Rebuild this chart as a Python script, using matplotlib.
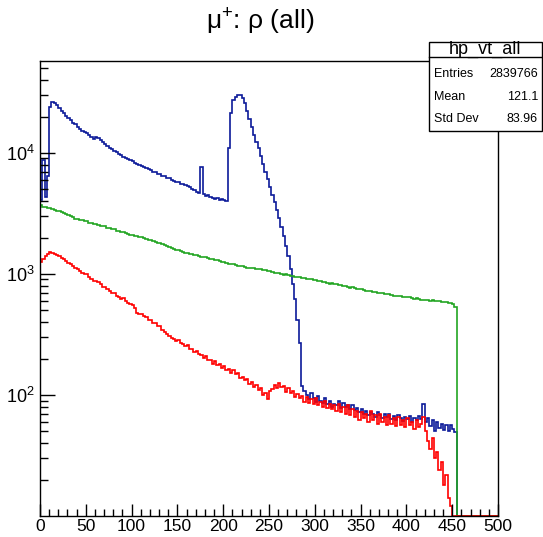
import numpy as np
import matplotlib
matplotlib.use("Agg")
import matplotlib.pyplot as plt
from matplotlib.patches import Rectangle
from matplotlib.lines import Line2D
from matplotlib.ticker import FixedLocator, MultipleLocator, NullFormatter

plt.rcParams['font.family'] = ['Liberation Sans', 'DejaVu Sans']
plt.rcParams['mathtext.fontset'] = 'custom'
plt.rcParams['mathtext.rm'] = 'Liberation Sans'
plt.rcParams['mathtext.it'] = 'Liberation Sans'

# histogram contents, 2.5-unit bins from 0 to 500 (one row = 25 units)
edges = np.arange(0, 502.5, 2.5)

blue = [4100, 8800, 4300, 6400, 24000, 26500, 26000, 25000, 23500, 22300,
        21200, 20200, 19400, 18600, 17800, 17200, 16500, 15800, 15300, 14800,
        14500, 14100, 13500, 13100, 13600, 13400, 12700, 12300, 11800, 11400,
        11000, 10700, 10400, 10100, 9800, 9600, 9300, 9100, 8900, 8700,
        8500, 8300, 8100, 7900, 7800, 7600, 7500, 7300, 7200, 7000,
        6900, 6700, 6650, 6500, 6400, 6250, 6150, 6000, 5900, 5800,
        5700, 5550, 5500, 5400, 5300, 5200, 5050, 4950, 4800, 4700,
        7600, 4550, 4400, 4450, 4300, 4250, 4200, 4250, 4100, 4150,
        4050, 4000, 11000, 21500, 27400, 29000, 30200, 30000, 28500, 26000,
        22000, 19000, 16400, 14200, 12400, 11000, 9400, 8100, 7000, 6100,
        5200, 4500, 3900, 3400, 2900, 2450, 2050, 1700, 1400, 1100,
        820, 620, 420, 270, 118, 108, 100, 92, 104, 95,
        88, 98, 90, 86, 94, 84, 89, 80, 85, 82,
        90, 78, 86, 80, 83, 76, 82, 75, 78, 72,
        76, 70, 74, 68, 73, 70, 66, 72, 68, 64,
        70, 66, 69, 63, 67, 62, 68, 64, 61, 66,
        63, 67, 60, 64, 62, 67, 63, 84, 60, 64,
        55, 62, 50, 60, 53, 58, 51, 57, 50, 56,
        52, 49, 0, 0, 0, 0, 0, 0, 0, 0,
        0, 0, 0, 0, 0, 0, 0, 0, 0, 0]

green = [3680, 3600, 3580, 3520, 3480, 3430, 3380, 3300, 3290, 3220,
         3160, 3110, 3080, 3020, 2940, 2870, 2860, 2810, 2780, 2720,
         2720, 2660, 2630, 2590, 2600, 2540, 2500, 2480, 2470, 2420,
         2380, 2340, 2330, 2280, 2250, 2230, 2230, 2180, 2150, 2110,
         2110, 2070, 2050, 2010, 2010, 1970, 1940, 1900, 1890, 1860,
         1830, 1790, 1790, 1760, 1720, 1690, 1670, 1640, 1610, 1580,
         1580, 1550, 1520, 1500, 1500, 1470, 1450, 1430, 1440, 1410,
         1390, 1370, 1375, 1350, 1330, 1320, 1315, 1300, 1270, 1255,
         1250, 1240, 1210, 1200, 1200, 1185, 1165, 1160, 1160, 1140,
         1130, 1125, 1130, 1115, 1105, 1100, 1100, 1085, 1075, 1065,
         1060, 1045, 1025, 1020, 1015, 1005, 985, 990, 980, 965,
         955, 950, 950, 935, 930, 920, 915, 905, 900, 890,
         885, 880, 870, 860, 860, 845, 830, 835, 830, 820,
         810, 805, 800, 790, 785, 770, 775, 760, 750, 745,
         745, 740, 725, 720, 720, 712, 705, 698, 700, 690,
         682, 684, 678, 670, 662, 660, 655, 652, 648, 642,
         645, 640, 628, 625, 630, 622, 615, 612, 612, 606,
         602, 605, 600, 595, 598, 590, 592, 585, 575, 580,
         560, 535, 0, 0, 0, 0, 0, 0, 0, 0,
         0, 0, 0, 0, 0, 0, 0, 0, 0, 0]

red = [1250, 1340, 1400, 1450, 1520, 1500, 1460, 1430, 1400, 1360,
       1320, 1270, 1240, 1210, 1160, 1120, 1100, 1060, 1020, 990,
       990, 940, 900, 880, 880, 850, 820, 780, 780, 750,
       720, 690, 700, 660, 640, 620, 630, 600, 580, 560,
       550, 520, 480, 470, 470, 450, 440, 420, 415, 395,
       390, 370, 375, 345, 330, 320, 310, 295, 290, 280,
       285, 268, 262, 255, 258, 240, 240, 228, 232, 218,
       212, 204, 210, 195, 194, 182, 190, 176, 180, 166,
       172, 160, 165, 152, 160, 148, 152, 138, 142, 132,
       135, 124, 128, 116, 122, 110, 115, 100, 104, 92,
       108, 112, 120, 114, 126, 116, 118, 106, 114, 104,
       108, 96, 102, 94, 98, 88, 96, 86, 92, 84,
       94, 82, 88, 80, 90, 78, 84, 76, 82, 74,
       84, 72, 80, 70, 82, 68, 76, 66, 74, 62,
       72, 64, 70, 60, 74, 62, 68, 58, 70, 60,
       66, 56, 68, 58, 64, 55, 66, 57, 62, 54,
       64, 56, 60, 52, 62, 54, 58, 66, 50, 42,
       36, 44, 30, 34, 24, 28, 18, 22, 14, 12,
       0, 0, 0, 0, 0, 0, 0, 0, 0, 0,
       0, 0, 0, 0, 0, 0, 0, 0, 0, 0]

ymin, ymax = 10, 5.75e4

fig = plt.figure(figsize=(5.43, 5.37), dpi=100)
ax = fig.add_axes([40 / 543, 1 - 516 / 537, 458 / 543, 455 / 537])

for vals, col in [(blue, '#0c1a99'), (green, '#22a522'), (red, '#ff0000')]:
    v = np.array(vals, dtype=float)
    v = np.where(v > 0, v, ymin)
    ax.stairs(v, edges, baseline=None, color=col, lw=1.2, clip_on=False)

ax.set_yscale('log')
ax.set_xlim(0, 500)
ax.set_ylim(ymin, ymax)

ax.xaxis.set_major_locator(MultipleLocator(50))
ax.xaxis.set_minor_locator(MultipleLocator(10))
ax.yaxis.set_major_locator(FixedLocator([1e2, 1e3, 1e4]))
ax.set_yticklabels([r'$10^{2}$', r'$10^{3}$', r'$10^{4}$'])
minors = [m * 10 ** d for d in range(1, 5) for m in range(2, 10)]
ax.yaxis.set_minor_locator(FixedLocator(minors))
ax.yaxis.set_minor_formatter(NullFormatter())

ax.tick_params(axis='x', which='major', direction='in', length=9, width=1,
               labelsize=12.5, pad=2.5, top=False)
ax.tick_params(axis='x', which='minor', direction='in', length=5, width=1, top=False)
ax.tick_params(axis='y', which='major', direction='in', length=11, width=1,
               labelsize=13, pad=4, right=False)
ax.tick_params(axis='y', which='minor', direction='in', length=6, width=1, right=False)
for s in ax.spines.values():
    s.set_linewidth(1.0)

fig.text(260 / 543, 1 - 22 / 537, r'μ$^{+}$: ρ (all)', ha='center', va='center',
         fontsize=19)

# stats box
bx0, bx1 = 429 / 543, 542 / 543
by_top, by_div, by_bot = 1 - 42 / 537, 1 - 57 / 537, 1 - 131 / 537
fig.patches.append(Rectangle((bx0, by_bot), bx1 - bx0, by_top - by_bot,
                             transform=fig.transFigure, facecolor='white',
                             edgecolor='black', lw=1.0, zorder=5))
fig.lines.append(Line2D([bx0, bx1], [by_div, by_div], transform=fig.transFigure,
                        color='black', lw=1.0, zorder=6))
fig.text((bx0 + bx1) / 2, 1 - 49.5 / 537, 'hp_vt_all', ha='center', va='center',
         fontsize=13, zorder=7)
stats = [('Entries', '2839766'), ('Mean', '121.1'), ('Std Dev', '83.96')]
for i, (k, val) in enumerate(stats):
    yy = 1 - (74 + 22.5 * i) / 537
    fig.text(434 / 543, yy, k, ha='left', va='center', fontsize=9, zorder=7)
    fig.text(538 / 543, yy, val, ha='right', va='center', fontsize=9, zorder=7)

fig.savefig('out.png', dpi=100)
